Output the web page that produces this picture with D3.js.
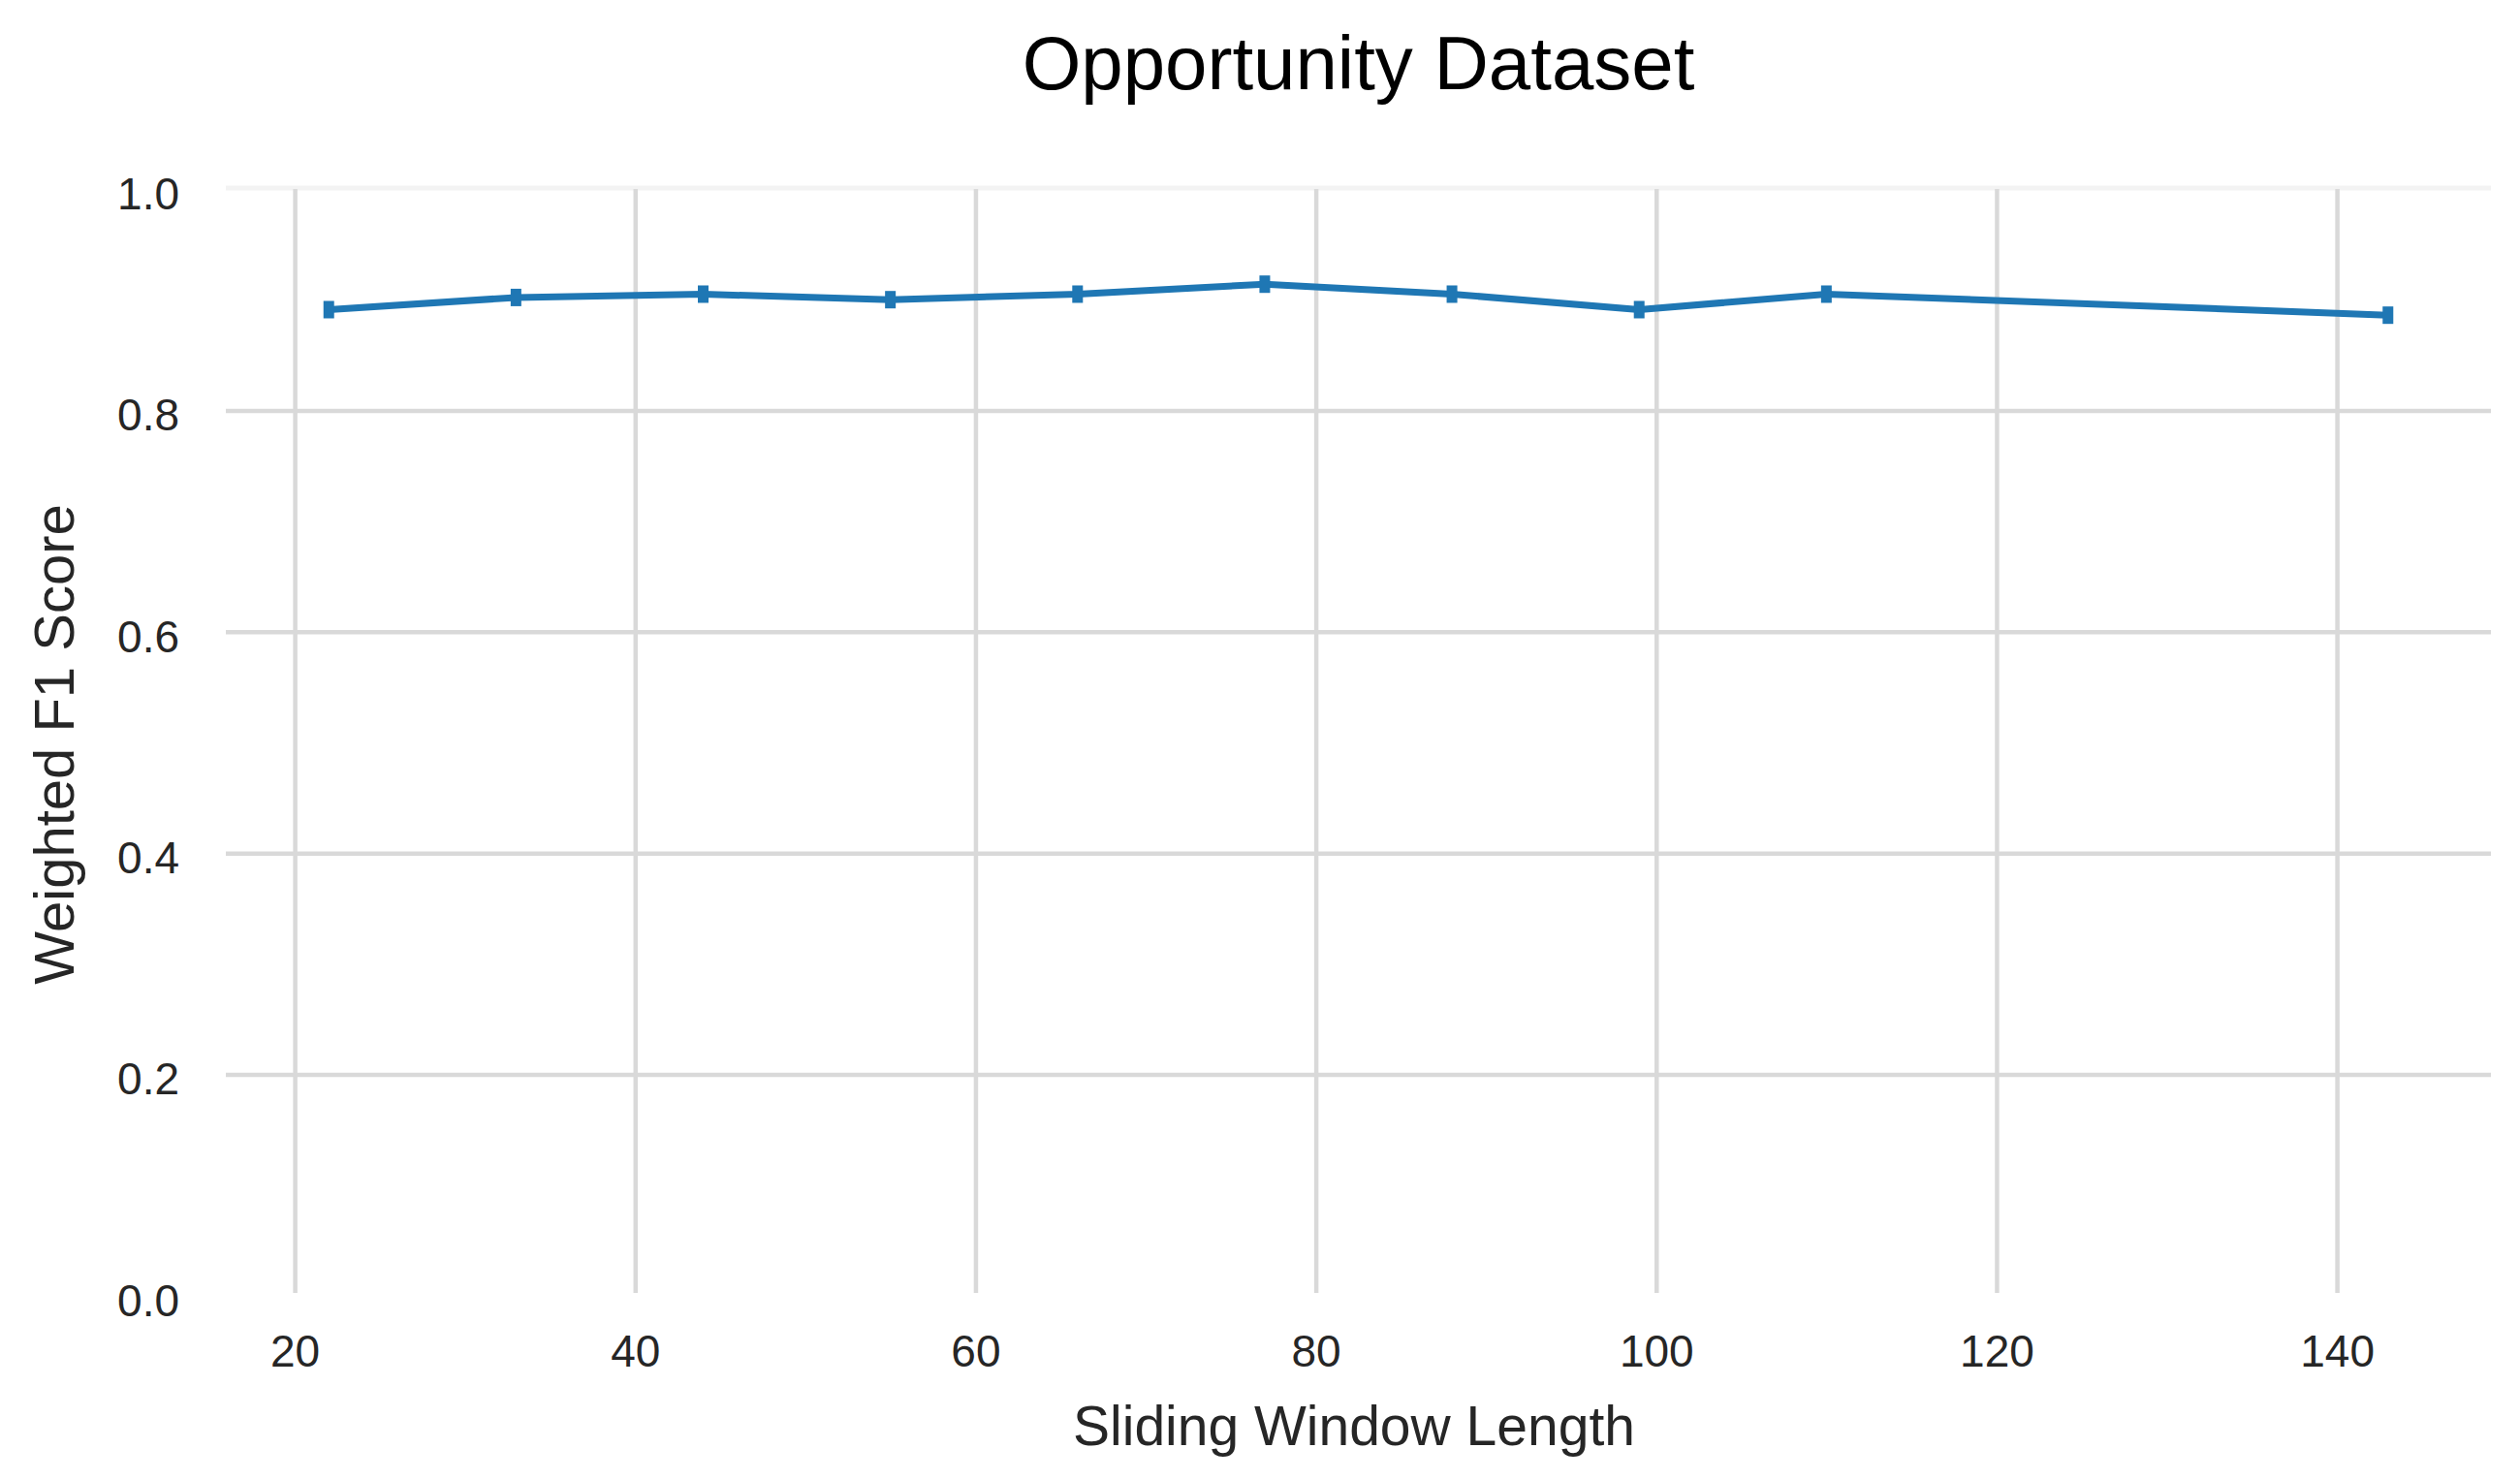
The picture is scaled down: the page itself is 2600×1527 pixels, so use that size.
<!DOCTYPE html>
<html>
<head>
<meta charset="utf-8">
<script src="https://cdn.jsdelivr.net/npm/d3@7"></script>
<style>
  body { margin: 0; background: #fff; }
  text { font-family: "Liberation Sans", Arial, sans-serif; fill: #262626; }
</style>
</head>
<body>
<div class="visHolder"></div>
<script>
let windowLengths = [22, 33, 44, 55, 66, 77, 88, 99, 110, 143];
let f1Scores = [0.891, 0.902, 0.905, 0.900, 0.905, 0.914, 0.905, 0.891, 0.905, 0.886];
let yTicks = [0.0, 0.2, 0.4, 0.6, 0.8, 1.0];
let xTicks = [20, 40, 60, 80, 100, 120, 140];

let width = 2600;
let height = 1527;
let plotLeft = 233, plotRight = 2570, plotTop = 195, plotBottom = 1337;
let gridBottom = 1334;

let svg = d3
  .select(".visHolder")
  .append("svg")
  .attr("width", width)
  .attr("height", height);

// matplotlib style 5% margins on x
let xMin = d3.min(windowLengths), xMax = d3.max(windowLengths);
let pad = (xMax - xMin) * 0.05;

let xScale = d3.scaleLinear().domain([xMin - pad, xMax + pad]).range([plotLeft, plotRight]);
let yScale = d3.scaleLinear().domain([0, 1]).range([plotBottom, plotTop]);

// light top edge line
svg.append("line")
  .attr("x1", plotLeft).attr("x2", plotRight)
  .attr("y1", plotTop - 1).attr("y2", plotTop - 1)
  .attr("stroke", "#f3f3f3")
  .attr("stroke-width", 5);

let xAxis = d3.axisBottom(xScale)
  .tickValues(xTicks)
  .tickSize(-(gridBottom - plotTop))
  .tickPadding(43);

let yAxis = d3.axisLeft(yScale)
  .tickValues(yTicks)
  .tickFormat(d3.format(".1f"))
  .tickSize(-(plotRight - plotLeft))
  .tickPadding(48);

let gx = svg.append("g")
  .attr("transform", "translate(0," + gridBottom + ")")
  .call(xAxis);

let gy = svg.append("g")
  .attr("transform", "translate(" + plotLeft + ",0)")
  .call(yAxis);

[gx, gy].forEach(function (g) {
  g.select(".domain").remove();
  g.selectAll(".tick line")
    .attr("stroke", "#d9d9d9")
    .attr("stroke-width", 4.5);
  g.selectAll(".tick text")
    .style("font-size", "46px")
    .attr("fill", "#262626");
});

gy.selectAll(".tick text").attr("dy", "0.44em");
gy.selectAll(".tick line")
  .attr("stroke", function (d) {
    if (d === 1 || d === 0) return "none";
    return "#d9d9d9";
  });

// line
let line = d3.line()
  .x(function (d, i) { return xScale(windowLengths[i]); })
  .y(function (d) { return yScale(d); });

svg.append("path")
  .datum(f1Scores)
  .attr("d", line)
  .attr("fill", "none")
  .attr("stroke", "#1f77b4")
  .attr("stroke-width", 7)
  .attr("stroke-linejoin", "round");

svg.selectAll(".marker")
  .data(f1Scores)
  .enter()
  .append("rect")
  .attr("class", "marker")
  .attr("x", function (d, i) { return xScale(windowLengths[i]) - 5.5; })
  .attr("y", function (d) { return yScale(d) - 9; })
  .attr("width", 11)
  .attr("height", 18)
  .attr("fill", "#1f77b4");

// title and labels
svg.append("text")
  .attr("x", (plotLeft + plotRight) / 2)
  .attr("y", 92)
  .attr("text-anchor", "middle")
  .style("font-size", "78px")
  .style("fill", "#000")
  .text("Opportunity Dataset");

svg.append("text")
  .attr("x", 1397)
  .attr("y", 1491)
  .attr("text-anchor", "middle")
  .style("font-size", "57px")
  .text("Sliding Window Length");

svg.append("text")
  .attr("transform", "translate(76," + 768 + ") rotate(-90)")
  .attr("text-anchor", "middle")
  .style("font-size", "58px")
  .text("Weighted F1 Score");
</script>
</body>
</html>
